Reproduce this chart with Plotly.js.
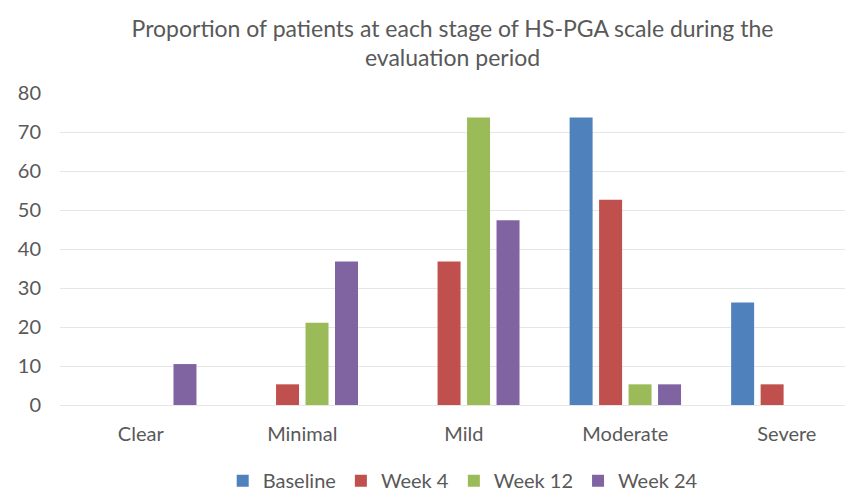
<!DOCTYPE html>
<html><head><meta charset="utf-8">
<script src="https://cdn.plot.ly/plotly-3.0.1.min.js"></script>
<style>html,body{margin:0;padding:0;background:#fff}#chart{width:855px;height:494px}</style>
</head><body><div id="chart"></div>
<script>
const categories = ["Clear", "Minimal", "Mild", "Moderate", "Severe"];
const seriesNames = ["Baseline", "Week 4", "Week 12", "Week 24"];
const baseline = [0, 0, 0, 73.7, 26.3];
const week4 = [0, 5.3, 36.8, 52.6, 5.3];
const week12 = [0, 21.1, 73.7, 5.3, 0];
const week24 = [10.5, 36.8, 47.4, 5.3, 0];
const colors = ["#4F81BD", "#C0504D", "#9BBB59", "#8064A2"];
const yTicks = [0, 10, 20, 30, 40, 50, 60, 70, 80];

const values = [baseline, week4, week12, week24];
const traces = values.map((v, i) => ({
  type: "bar", name: seriesNames[i], x: categories, y: v,
  marker: {color: colors[i]}, hoverinfo: "x+y+name"
}));

const layout = {
  width: 855, height: 494,
  margin: {l: 60, r: 10, t: 93, b: 89, autoexpand: false},
  paper_bgcolor: "#fff", plot_bgcolor: "#fff",
  font: {family: "Lato, 'Open Sans', sans-serif", color: "#595959", size: 20},
  title: {text: "Proportion of patients at each stage of HS-PGA scale during the<br>evaluation period",
          font: {size: 23, color: "#595959"}, xref: "paper", x: 0.5, xanchor: "center",
          yref: "container", y: 0.926, yanchor: "top"},
  barmode: "group", bargap: 0.27, bargroupgap: 0.22,
  xaxis: {range: [-0.5, 4.36], showgrid: false, zeroline: false, showline: false, ticks: "",
          tickfont: {size: 20, color: "#595959"}, ticklabelstandoff: 15},
  yaxis: {range: [0, 80], tickvals: yTicks, showgrid: true, gridcolor: "#e6e6e6", gridwidth: 1,
          zeroline: true, zerolinecolor: "#e6e6e6", showline: false, ticks: "",
          tickfont: {size: 20, color: "#595959"}, ticklabelstandoff: 18},
  legend: {orientation: "h", xref: "paper", x: 0.513, xanchor: "center", yref: "paper", y: -0.18, yanchor: "top",
           font: {size: 20, color: "#595959"}, itemwidth: 30, traceorder: "normal"},
  showlegend: true
};
Plotly.newPlot("chart", traces, layout, {displayModeBar: false, staticPlot: true});
</script></body></html>
